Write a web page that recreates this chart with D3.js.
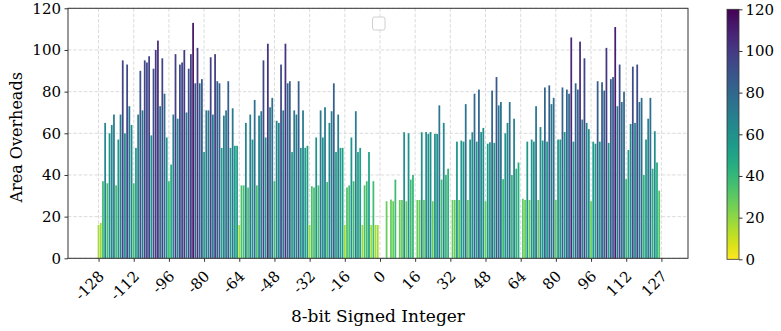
<!DOCTYPE html>
<html><head><meta charset="utf-8">
<script src="https://cdn.jsdelivr.net/npm/d3@7"></script>
<style>body{margin:0;background:#fff} text{font-family:"DejaVu Serif",serif;fill:#000}</style>
</head><body><svg id="c" width="781" height="331"></svg>
<script>
// Values for -128 .. -1
const negValues = [
16,17,37,65,36,60,64,69,35,57,69,95,60,93,73,64,
36,53,69,90,71,95,94,97,59,91,100,104.5,73,96,79,58,
37,45,69,98,67,93,94,100,70,91,98,113,84,101,84,86,
51,71,71,96.5,69,98,85,84,53,68.5,71,85,53,72,54,54,
16,35,35,65,34,69,57,76,35,68.5,70.6,95,58,103,72.5,77,
37,66,65,93,71,103,84,85,51,71,69,85,53,71,53,54,
16,34.6,34,58,35,71,58,72.5,36.6,65,70.6,84,51,69,53,53,
16,34,35,58,37,70.6,51,53,16,35,37,51,16,37,16,16
];
// Values for 0 .. 127
const posValues = [
0,0,0,27.4,0,28.2,27.4,37.8,0,28,28,60.5,27.4,60,37.8,40,
0,28,28,60.5,28,60.6,59.7,60.6,27.4,59.7,59.7,73.4,37.8,65,40,43,
0,28,28,56,28,56.5,56,74,28,57,60.5,79,56,81,60.6,62.6,
27.4,55,55.7,80.5,55.4,87,73.4,75,38,60,65,75,40,67,43,46,
0,28.6,28,56,28,57,56,73,28,63,56.5,82,56,83,74,77,
28,57,57,82,60.6,81,79,106,56,84,81,104,66.6,96,65,62,
27.4,56,55,85,56,84.5,80.5,101,55.4,86,87,111,73,93,75,80,
38,52,64.5,92,65,93,75,77,40,57,67,77,43,61,46,32.5
];
const categories = d3.range(-128, 128);
const xTickValues = [-128,-112,-96,-80,-64,-48,-32,-16,0,16,32,48,64,80,96,112,128];
const xTickLabels = ["-128","-112","-96","-80","-64","-48","-32","-16","0","16","32","48","64","80","96","112","127"];
const yTickValues = [0,20,40,60,80,100,120];
const cbTickValues = [0,20,40,60,80,100,120];

const values = negValues.concat(posValues);
const data = categories.map((k,i)=>({k, v: values[i]}));

const L=68, R=688, T=8.3, B=258.3;
const x = d3.scaleLinear().domain([-141.9,140.1]).range([L,R]);
const y = d3.scaleLinear().domain([0,120]).range([B,T]);
const color = v => d3.interpolateViridis(1 - v/120);
const svg = d3.select("#c");

const grid = svg.append("g").attr("stroke","#d2d2d2").attr("stroke-width",0.8).attr("stroke-dasharray","3.5,1.8");
grid.selectAll("line.h").data(yTickValues).join("line").attr("class","h")
  .attr("x1",L).attr("x2",R).attr("y1",d=>y(d)).attr("y2",d=>y(d));
grid.selectAll("line.v").data(xTickValues).join("line").attr("class","v")
  .attr("y1",T).attr("y2",B).attr("x1",d=>x(d)).attr("x2",d=>x(d));

const bw = (x(1)-x(0))*0.8;
svg.append("g").selectAll("rect").data(data.filter(d=>d.v>0)).join("rect")
  .attr("x",d=>x(d.k)-bw/2).attr("width",bw)
  .attr("y",d=>y(d.v)).attr("height",d=>y(0)-y(d.v))
  .attr("fill",d=>color(d.v));

// frame
svg.append("rect").attr("x",L).attr("y",T).attr("width",R-L).attr("height",B-T)
  .attr("fill","none").attr("stroke","#333").attr("stroke-width",1);

// y axis
const ya = svg.append("g").attr("transform",`translate(${L},0)`)
  .call(d3.axisLeft(y).tickValues(yTickValues).tickSize(3.5).tickPadding(3.5).tickSizeOuter(0));
ya.select(".domain").remove();
ya.selectAll("line").attr("stroke","#333");
ya.selectAll("text").style("font-size","15px").style("font-family","DejaVu Serif");

// x axis
const xa = svg.append("g").attr("transform",`translate(0,${B})`)
  .call(d3.axisBottom(x).tickValues(xTickValues).tickFormat((d,i)=>xTickLabels[i]).tickSize(3.5).tickSizeOuter(0));
xa.select(".domain").remove();
xa.selectAll("line").attr("stroke","#333");
xa.selectAll("text").style("font-size","15px").style("font-family","DejaVu Serif")
  .attr("x",0).attr("y",0).attr("dy",0)
  .attr("transform","translate(6,19) rotate(-45)").style("text-anchor","end");

// axis labels
svg.append("text").attr("x",(L+R)/2).attr("y",322).attr("text-anchor","middle")
  .style("font-size","17px").text("8-bit Signed Integer");
svg.append("text").attr("transform",`translate(22,${(T+B)/2 + 4}) rotate(-90)`).attr("text-anchor","middle")
  .style("font-size","16px").text("Area Overheads");

// empty legend
svg.append("rect").attr("x",372.5).attr("y",17).attr("width",12.5).attr("height",13).attr("rx",2)
  .attr("fill","#fff").attr("stroke","#d0d0d0").attr("stroke-width",1);

// colorbar
const cbX=727, cbW=12, cbT=9.3, cbB=259.3;
const cy = d3.scaleLinear().domain([0,120]).range([cbB,cbT]);
const defs = svg.append("defs");
const grad = defs.append("linearGradient").attr("id","cbg").attr("x1",0).attr("x2",0).attr("y1",1).attr("y2",0);
d3.range(0,1.0001,0.05).forEach(t=>grad.append("stop").attr("offset",t).attr("stop-color",d3.interpolateViridis(1-t)));
svg.append("rect").attr("x",cbX).attr("y",cbT).attr("width",cbW).attr("height",cbB-cbT).attr("fill","url(#cbg)")
  .attr("stroke","#333").attr("stroke-width",0.8);
const ca = svg.append("g").attr("transform",`translate(${cbX+cbW},0)`)
  .call(d3.axisRight(cy).tickValues(cbTickValues).tickSize(3.5).tickPadding(3).tickSizeOuter(0));
ca.select(".domain").remove();
ca.selectAll("line").attr("stroke","#333");
ca.selectAll("text").style("font-size","15px").style("font-family","DejaVu Serif");
</script></body></html>
